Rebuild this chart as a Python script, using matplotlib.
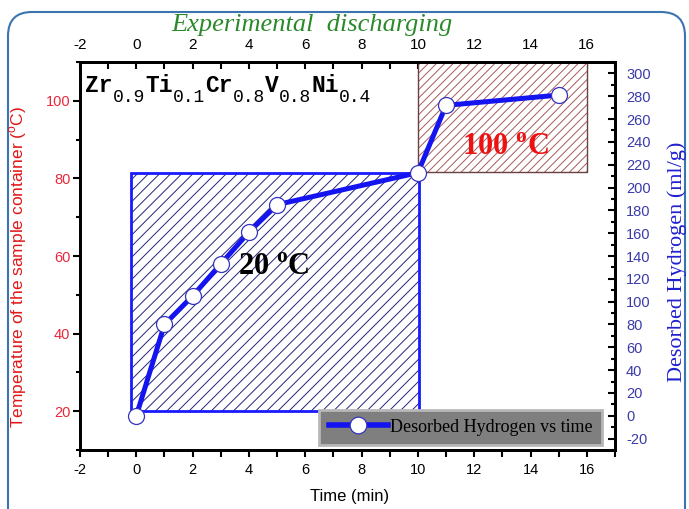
import numpy as np
import matplotlib
matplotlib.use("Agg")
import matplotlib.pyplot as plt
from matplotlib.patches import Rectangle, FancyBboxPatch
from matplotlib.lines import Line2D
from matplotlib.ticker import MultipleLocator

# data
time_min = [0, 1, 2, 3, 4, 5, 10, 11, 15]
hydrogen = [0, 80, 105, 133, 161, 185, 213, 272, 281]

# temperature zones (time range, temperature range)
zone_t0 = [-0.2, 10.0]
zone_t1 = [10.05, 16.0]
zone_temp0 = [20.0, 81.7]
zone_temp1 = [81.3, 110.0]
zone_labels = ["20", "100"]

plt.rcParams['mathtext.fontset'] = 'custom'
plt.rcParams['mathtext.rm'] = 'Liberation Serif:bold'
plt.rcParams['mathtext.bf'] = 'Liberation Serif:bold'
plt.rcParams['mathtext.sf'] = 'Liberation Sans'
plt.rcParams['hatch.linewidth'] = 0.7
plt.rcParams['axes.unicode_minus'] = False

red_lab = '#e8283c'
blue_lab = '#3a3aaa'

fig = plt.figure(figsize=(6.89, 5.09), dpi=100)
ax = fig.add_axes([80/689, 59/509, 535/689, 388/509])
ax2 = ax.twinx()

ax.set_xlim(-2, 17)
ax.set_ylim(10, 110)
ax2.set_ylim(-30, 310)

# zone rectangles
hatch_cols = ['#23237a', '#a85a5a']
hatches = ['///', '////']
edge_cols = ['#1a1aff', '#6a4040']
edge_lw = [2.0, 1.0]
for i in range(2):
    w = zone_t1[i] - zone_t0[i]
    h = zone_temp1[i] - zone_temp0[i]
    ax.add_patch(Rectangle((zone_t0[i], zone_temp0[i]), w, h, facecolor='white',
                           edgecolor=hatch_cols[i], hatch=hatches[i], lw=0, zorder=1))
    ax.add_patch(Rectangle((zone_t0[i], zone_temp0[i]), w, h, fill=False,
                           edgecolor=edge_cols[i], lw=edge_lw[i], zorder=2))

ax.text(4.9, 57, zone_labels[0] + r" $^{\mathrm{o}}$C", fontsize=22, fontweight='bold',
        family='Liberation Serif', color='black', ha='center', va='center', zorder=3)
ax.text(13.1, 88, zone_labels[1] + r" $^{\mathrm{o}}$C", fontsize=22, fontweight='bold',
        family='Liberation Serif', color='#ee1111', ha='center', va='center', zorder=3)

# hydrogen curve
ax2.plot(time_min, hydrogen, color='#1414f0', lw=3.6, marker='o', ms=11.5,
         mfc='white', mec='#3434c0', mew=0.9, zorder=5)

# formula
parts = [("Zr", "0.9"), ("Ti", "0.1"), ("Cr", "0.8"), ("V", "0.8"), ("Ni", "0.4")]
main_fs, sub_fs = 16.5, 13
xoff = 0.0
for el, sub in parts:
    ax.annotate(el, xy=(5/535, (450-92)/388), xycoords='axes fraction',
                xytext=(xoff, 0), textcoords='offset points', fontsize=main_fs,
                family='Liberation Mono', fontweight='bold', va='baseline', ha='left')
    xoff += len(el) * 0.6 * main_fs
    ax.annotate(sub, xy=(5/535, (450-92)/388), xycoords='axes fraction',
                xytext=(xoff, -7), textcoords='offset points', fontsize=sub_fs,
                family='Liberation Mono', va='baseline', ha='left')
    xoff += len(sub) * 0.6 * sub_fs

# axes styling
for a in (ax, ax2):
    for s in a.spines.values():
        s.set_linewidth(2)

ax.xaxis.set_major_locator(MultipleLocator(2))
ax.xaxis.set_minor_locator(MultipleLocator(1))
ax.yaxis.set_major_locator(MultipleLocator(20))
ax.yaxis.set_minor_locator(MultipleLocator(10))
ax2.yaxis.set_major_locator(MultipleLocator(20))
ax2.yaxis.set_minor_locator(MultipleLocator(10))

ax.tick_params(axis='x', which='both', direction='out', width=1.5, length=5, pad=4,
               labelsize=10.5, labelcolor='black', labelfontfamily='Liberation Sans')
ax.tick_params(axis='y', which='major', direction='out', width=1.5, length=5, pad=2,
               labelsize=10.5, labelcolor=red_lab, labelfontfamily='Liberation Sans')
ax.tick_params(axis='y', which='minor', direction='out', width=1.5, length=3)
ax2.tick_params(axis='y', which='major', direction='in', width=1.5, length=5, pad=8,
                labelsize=10.5, labelcolor=blue_lab, labelfontfamily='Liberation Sans')
ax2.tick_params(axis='y', which='minor', direction='in', width=1.5, length=3)

top = ax.secondary_xaxis('top')
top.xaxis.set_major_locator(MultipleLocator(2))
top.xaxis.set_minor_locator(MultipleLocator(1))
top.spines['top'].set_linewidth(2)
top.tick_params(axis='x', which='both', direction='in', width=1.5, length=5, pad=7,
                labelsize=11, labelfontfamily='Liberation Sans')

# legend
h = Line2D([], [], color='#1414f0', lw=4, marker='o', ms=12, mfc='white',
           mec='#3434c0', mew=0.9)
leg = ax2.legend([h], ["Desorbed Hydrogen vs time"], loc='lower right',
                 bbox_to_anchor=(0.985, 0.0), fancybox=False, framealpha=1,
                 facecolor='#7f7f7f', edgecolor='#b8b8b8', handlelength=3.3,
                 handletextpad=0.1, borderpad=0.5, borderaxespad=0.3,
                 prop={'family': 'Liberation Serif', 'size': 13})
leg.get_frame().set_linewidth(2)
leg.set_zorder(10)

# labels
fig.text(312/689, 1-25/509, "Experimental  discharging", fontsize=19, style='italic',
         family='Liberation Serif', color='#2a8a2a', ha='center', va='center')
fig.text(18/689, 1-267/509, r"Temperature of the sample container ($^{\mathsf{o}}$C)",
         rotation=90, fontsize=12.5, family='Liberation Sans', color='#e01818',
         ha='center', va='center')
fig.text(677/689, 1-262/509, "Desorbed Hydrogen (ml/g)", rotation=90, fontsize=16,
         family='Liberation Serif', color='#2020d0', ha='center', va='center')
fig.text(350/689, 1-497/509, "Time (min)", fontsize=12, family='Liberation Sans',
         color='black', ha='center', va='center')

# page frame
frame = FancyBboxPatch((8, -60), 677, 509-12+60, boxstyle='round,pad=0,rounding_size=24',
                       transform=None, fill=False, edgecolor='#3c74b0', lw=1.5)
fig.patches.append(frame)

fig.savefig("out.png", dpi=100)
